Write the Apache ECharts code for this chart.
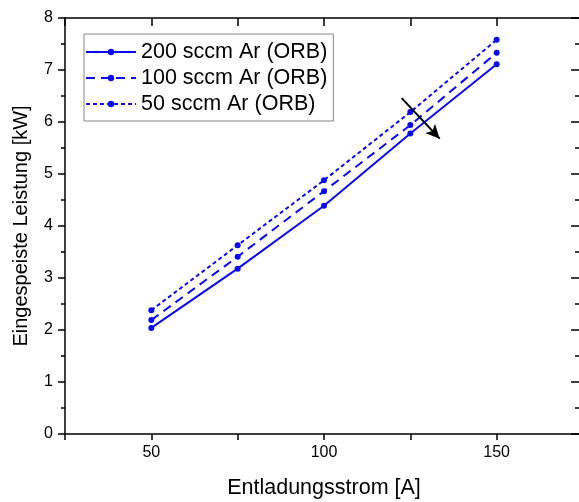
<!DOCTYPE html>
<html><head><meta charset="utf-8">
<script src="https://cdn.jsdelivr.net/npm/echarts@6/dist/echarts.min.js"></script>
<style>html,body{margin:0;padding:0;background:#fff}#c{width:579px;height:502px}</style>
</head><body><div id="c"></div>
<script>
const current = [50, 75, 100, 125, 150];
const p200 = [2.04, 3.18, 4.39, 5.78, 7.11];
const p100 = [2.19, 3.41, 4.67, 5.94, 7.33];
const p50  = [2.38, 3.63, 4.88, 6.19, 7.58];
const seriesNames = ['200 sccm Ar (ORB)', '100 sccm Ar (ORB)', '50 sccm Ar (ORB)'];
const arrowFrom = [122.5, 6.46];
const arrowTo = [133.5, 5.68];

const FONT = 'Liberation Sans, Arial, sans-serif';
const BLUE = '#0a0af0';
function pts(vals){ return current.map((x,i)=>[x, vals[i]]); }
function mk(name, vals, dash){
  return {
    name, type:'line', data: pts(vals),
    symbol:'circle', symbolSize:6,
    itemStyle:{color:BLUE},
    lineStyle:{color:BLUE, width:2, type:dash},
    emphasis:{disabled:true}, animation:false
  };
}
const s1 = mk(seriesNames[0], p200, 'solid');
const s2 = mk(seriesNames[1], p100, [9,6]);
const s3 = mk(seriesNames[2], p50, [4,3]);
s1.markLine = {
  silent:true, symbol:['none','arrow'], symbolSize:[10,14],
  label:{show:false},
  lineStyle:{color:'#000', width:2, type:'solid'},
  data:[[{coord:arrowFrom},{coord:arrowTo}]],
  animation:false
};

const chart = echarts.init(document.getElementById('c'), null, {renderer:'canvas'});
chart.setOption({
  animation:false,
  backgroundColor:'#fff',
  textStyle:{fontFamily:FONT},
  grid:{left:65, width:518, top:18, bottom:68, containLabel:false, outerBoundsMode:'none'},
  legend:{
    orient:'vertical', left:84, top:34,
    data: seriesNames,
    itemWidth:50, itemHeight:8, itemGap:0,
    borderColor:'#888', borderWidth:1, padding:[5,6,4,1],
    textStyle:{fontFamily:FONT, fontSize:21.5, color:'#000', lineHeight:26},
    selectedMode:false
  },
  xAxis:[{
    type:'value', min:25, max:175, interval:25,
    axisLine:{onZero:false, lineStyle:{color:'#000', width:1.5}},
    axisTick:{show:true, length:6, lineStyle:{color:'#000', width:1.5}},
    minorTick:{show:false},
    axisLabel:{fontFamily:FONT, fontSize:16, color:'#000', margin:11,
      formatter:v => (v % 50 === 0 ? String(v) : '')},
    splitLine:{show:false},
    name:'Entladungsstrom [A]', nameLocation:'middle', nameGap:43,
    nameTextStyle:{fontFamily:FONT, fontSize:21.5, color:'#000'}
  },{
    type:'value', position:'top', min:25, max:175, interval:25,
    axisLine:{onZero:false, lineStyle:{color:'#000', width:1.5}},
    axisTick:{show:true, inside:true, length:8, lineStyle:{color:'#000', width:1.5}},
    axisLabel:{show:false}, splitLine:{show:false}
  }],
  yAxis:[{
    type:'value', min:0, max:8, interval:1,
    axisLine:{show:true, onZero:false, lineStyle:{color:'#000', width:1.5}},
    axisTick:{show:true, length:7, lineStyle:{color:'#000', width:1.5}},
    minorTick:{show:true, splitNumber:2, length:4, lineStyle:{color:'#000', width:1.5}},
    axisLabel:{fontFamily:FONT, fontSize:16, color:'#000', margin:12},
    splitLine:{show:false},
    name:'Eingespeiste Leistung [kW]', nameLocation:'middle', nameGap:34,
    nameTextStyle:{fontFamily:FONT, fontSize:20, color:'#000'}
  },{
    type:'value', position:'right', min:0, max:8, interval:1,
    axisLine:{show:true, onZero:false, lineStyle:{color:'#000', width:1.5}},
    axisTick:{show:true, inside:true, length:12, lineStyle:{color:'#000', width:1.5}},
    minorTick:{show:true, splitNumber:2, length:8, lineStyle:{color:'#000', width:1.5}},
    axisLabel:{show:false}, splitLine:{show:false}
  }],
  series:[s1, s2, s3]
});
</script></body></html>
